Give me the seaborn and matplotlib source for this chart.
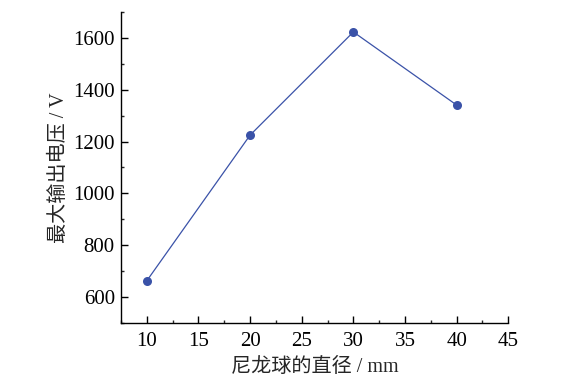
import matplotlib
matplotlib.use('Agg')
import matplotlib.pyplot as plt
import pandas as pd
import seaborn as sns
from matplotlib.ticker import MultipleLocator

# dados
diametro = [10, 20, 30, 40]
tensao = [663, 1225, 1623, 1341]

df = pd.DataFrame({'d': diametro, 'v': tensao})

sns.set_style('ticks')
plt.rcParams['font.family'] = ['Liberation Serif', 'Noto Sans CJK SC']
plt.rcParams['axes.unicode_minus'] = False

fig = plt.figure(figsize=(5.65, 3.79), dpi=100)
ax = fig.add_axes([0.2142, 0.1478, 0.6854, 0.8205])

sns.lineplot(x='d', y='v', data=df, ax=ax, color='#3a52a8', linewidth=0.9,
             marker='o', markersize=6.5, markeredgewidth=0)

ax.set_xlim(7.5, 45)
ax.set_ylim(500, 1700)
ax.xaxis.set_major_locator(MultipleLocator(5))
ax.xaxis.set_minor_locator(MultipleLocator(2.5))
ax.yaxis.set_minor_locator(MultipleLocator(100))
ax.set_yticks([600, 800, 1000, 1200, 1400, 1600])
ax.tick_params(which='major', direction='in', length=5, width=1, labelsize=15, colors='black')
ax.tick_params(axis='y', which='major', pad=4.5)
ax.tick_params(axis='x', which='major', pad=6.5)
ax.tick_params(which='minor', direction='in', length=2.5, width=1)

for s in ['top', 'right']:
    ax.spines[s].set_visible(False)
for s in ['left', 'bottom']:
    ax.spines[s].set_linewidth(1)
    ax.spines[s].set_color('black')

ax.set_xlabel('尼龙球的直径 / mm', fontsize=14.5, labelpad=5)
ax.set_ylabel('最大输出电压 / V', fontsize=14.5, labelpad=3)

fig.savefig('out.png', dpi=100)
